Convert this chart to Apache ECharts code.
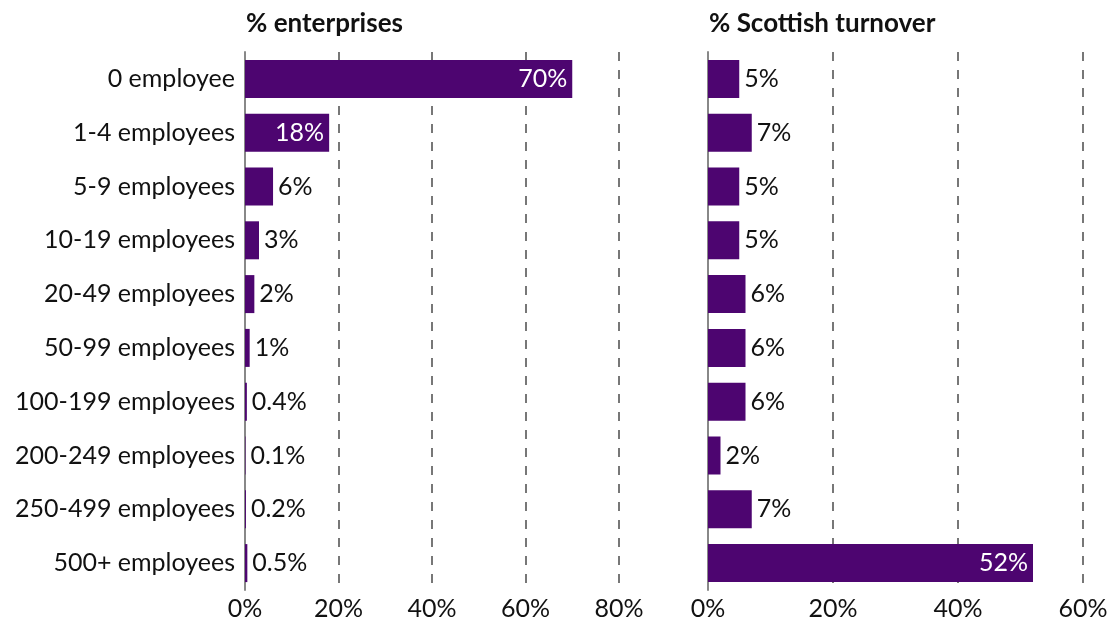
<!DOCTYPE html>
<html>
<head>
<meta charset="utf-8">
<script src="https://cdn.jsdelivr.net/npm/echarts@6/dist/echarts.min.js"></script>
<style>
  html, body { margin: 0; padding: 0; background: #fff; }
  #chart { width: 1115px; height: 621px; }
</style>
</head>
<body>
<div id="chart"></div>
<script>
// Business size bands, top to bottom
const categories = [
  '0 employee', '1-4 employees', '5-9 employees', '10-19 employees',
  '20-49 employees', '50-99 employees', '100-199 employees',
  '200-249 employees', '250-499 employees', '500+ employees'
];
// Share of enterprises (%)
const enterpriseShare = [70, 18, 6, 3, 2, 1, 0.4, 0.1, 0.2, 0.5];
// Share of Scottish turnover (%)
const turnoverShare = [5, 7, 5, 5, 6, 6, 6, 2, 7, 52];
const leftTicksMax = 80;
const rightTicksMax = 60;

const FONT = 'Lato, "Open Sans", sans-serif';
const PURPLE = '#4d0570';
const INSIDE_MIN = 15; // values at or above this get a white label inside the bar

function barData(values) {
  return values.map(v => ({
    value: v,
    label: v >= INSIDE_MIN
      ? { position: 'insideRight', color: '#fff', distance: 5 }
      : { position: 'right', color: '#111', distance: 5 }
  }));
}

function xAxis(gridIndex, max) {
  return {
    type: 'value', gridIndex, min: 0, max, interval: 20,
    axisLine: { show: false }, axisTick: { show: false },
    axisLabel: { formatter: '{value}%', color: '#111', fontSize: 25, fontFamily: FONT, margin: 6 },
    splitLine: { show: true, lineStyle: { color: '#777', width: 2, type: [9, 9] } }
  };
}

function yAxis(gridIndex, showLabels) {
  return {
    type: 'category', gridIndex, data: categories, inverse: true,
    axisLine: { show: true, lineStyle: { color: '#888', width: 2 } },
    axisTick: { show: false },
    axisLabel: { show: showLabels, color: '#111', fontSize: 25, fontFamily: FONT, margin: 10 }
  };
}

const chart = echarts.init(document.getElementById('chart'), null, { renderer: 'canvas' });
chart.setOption({
  animation: false,
  title: [
    { text: '% enterprises', left: 241, top: 6,
      textStyle: { fontSize: 26, fontWeight: 'bold', color: '#111', fontFamily: FONT } },
    { text: '% Scottish turnover', left: 704, top: 6,
      textStyle: { fontSize: 26, fontWeight: 'bold', color: '#111', fontFamily: FONT } }
  ],
  grid: [
    { left: 245, width: 374, top: 52, bottom: 31 },
    { left: 708, width: 375, top: 52, bottom: 31 }
  ],
  xAxis: [xAxis(0, leftTicksMax), xAxis(1, rightTicksMax)],
  yAxis: [yAxis(0, true), yAxis(1, false)],
  series: [
    {
      type: 'bar', xAxisIndex: 0, yAxisIndex: 0, barWidth: 38,
      data: barData(enterpriseShare),
      itemStyle: { color: PURPLE },
      label: { show: true, formatter: '{c}%', fontSize: 25, fontFamily: FONT }
    },
    {
      type: 'bar', xAxisIndex: 1, yAxisIndex: 1, barWidth: 38,
      data: barData(turnoverShare),
      itemStyle: { color: PURPLE },
      label: { show: true, formatter: '{c}%', fontSize: 25, fontFamily: FONT }
    }
  ]
});
</script>
</body>
</html>
